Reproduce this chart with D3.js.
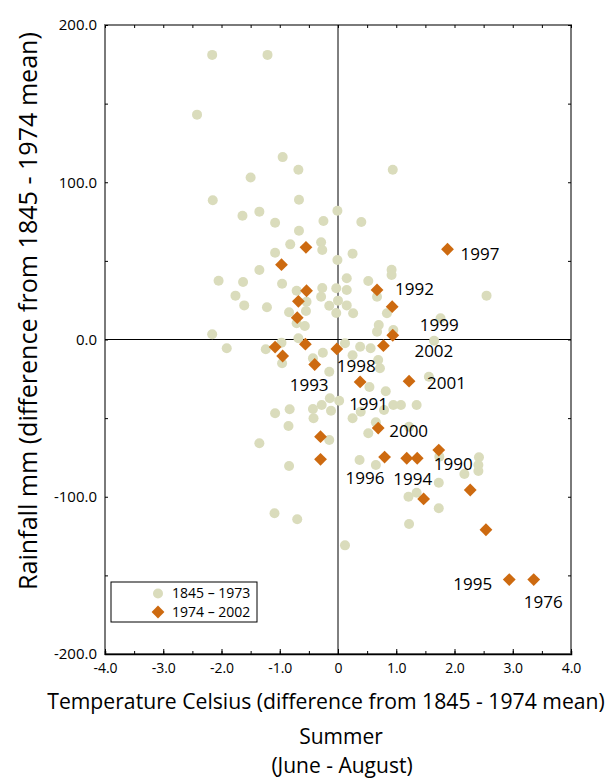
<!DOCTYPE html>
<html>
<head>
<meta charset="utf-8">
<script src="https://cdn.jsdelivr.net/npm/d3@7"></script>
<style>
  body { margin: 0; background: #fff; }
  text { font-family: 'Open Sans', 'Noto Sans', sans-serif; fill: #000; }
</style>
</head>
<body>
<script>
// 1845 - 1973 summers (temp diff °C, rain diff mm)
const earlyTemp = [
  -2.16, -1.21, -2.42, -0.95, -0.68, -1.50, -2.15, -0.67, 0.94, -1.64,
  -1.35, -1.08, -0.01, -0.25, 0.40, -0.67, -0.82, -0.29, -0.27, -1.08,
  0.25, -0.01, 0.92, 0.92, -1.35, -2.05, -1.63, -0.96, 0.15, 0.52,
  -0.71, -0.27, -0.03, 0.15, -1.76, -0.29, 0.67, -0.54, 0.00, -1.61,
  -1.22, -0.15, 0.15, -0.55, -0.84, -0.03, 0.26, 0.84, -0.71, -0.57,
  0.70, 0.67, 0.95, -2.16, -1.91, -1.24, -0.97, -0.68, -0.96, -0.43,
  -0.26, 0.12, 0.38, 0.56, 0.25, -0.15, 0.54, 0.82, -0.14, 2.55,
  1.76, 1.65, 1.56, 0.69, 0.72, 0.02, -0.28, -0.43, -0.12, -0.42,
  -1.08, -0.83, -0.85, -1.35, -0.15, 0.25, 0.39, 0.79, 0.95, 1.08,
  1.35, 0.65, 0.52, 0.37, 0.65, -0.84, -1.09, -0.70, 0.12, 1.21,
  1.35, 1.22, 1.22, 1.74, 2.42, 2.41, 2.41, 2.17, 1.73, 1.73
];
const earlyRain = [
  181, 181, 143, 116, 108, 103, 88.5, 88.9, 108, 78.7,
  81.3, 74.3, 81.9, 75.4, 74.7, 69.2, 60.5, 61.8, 56.9, 55.2,
  54.6, 50.6, 44.4, 41.0, 44.2, 37.4, 36.6, 35.5, 38.9, 37.2,
  31.0, 32.7, 32.6, 31.5, 27.9, 27.2, 27.2, 24.0, 24.7, 21.7,
  20.5, 21.5, 21.7, 18.1, 17.3, 16.9, 16.7, 16.7, 10.3, 8.6,
  9.2, 5.0, 6.0, 3.3, -5.6, -6.2, -2.0, 0.8, -15.1, -12.0,
  -8.4, -2.4, -4.6, -5.6, -10.0, -20.5, -30.2, -32.9, -37.4, 27.9,
  13.5, -0.8, -23.7, -13.0, -18.3, -38.9, -41.7, -44.2, -45.3, -50.1,
  -46.9, -44.4, -55.0, -66.0, -63.9, -50.1, -45.9, -44.8, -41.7, -41.7,
  -41.7, -52.7, -59.6, -76.6, -79.8, -80.4, -110.5, -114.3, -130.9, -100.0,
  -97.4, -117.3, -55.5, -74.5, -74.9, -79.8, -83.6, -85.5, -91.1, -107.3
];

// 1974 - 2002 summers, with year labels where shown
const lateTemp = [
  -0.55, -0.97, -0.54, -0.68, -0.70, 0.67, 0.93, 0.94, 0.78, -1.08,
  -0.95, -0.56, -0.02, -0.40, 0.38, 1.22, 1.88, 0.69, -0.30, -0.30,
  0.80, 1.18, 1.36, 1.73, 1.47, 2.27, 2.54, 2.94, 3.36
];
const lateRain = [
  58.6, 47.6, 31.0, 24.3, 13.9, 31.5, 20.9, 2.7, -3.9, -4.8,
  -10.5, -3.0, -6.0, -15.9, -27.0, -26.5, 57.4, -56.3, -61.8, -76.2,
  -74.8, -75.5, -75.5, -70.3, -101.4, -95.7, -121.0, -152.7, -152.7
];
const lateLabel = [
  '', '', '', '', '', '1992', '', '1999', '2002', '',
  '', '', '1998', '1993', '1991', '2001', '1997', '2000', '', '',
  '1996', '', '1994', '1990', '', '', '', '1995', '1976'
];

const xTicks = [-4, -3, -2, -1, 0, 1, 2, 3, 4];
const yTicks = [-200, -100, 0, 100, 200];
const legendLabels = ['1845 \u2013 1973', '1974 \u2013 2002'];

// label offsets from the diamond (px)
const labelPos = {
  1997: [13, 11], 1992: [18, 5], 1999: [27, -4], 2002: [31, 11],
  1998: [0, 23], 1993: [-25, 26], 1991: [-11, 28], 2001: [18, 8],
  2000: [11, 9], 1996: [-39, 27], 1994: [-24, 27], 1990: [-5, 20],
  1995: [-56, 10], 1976: [-10, 28]
};

const W = 609, H = 778;
const plot = { left: 105, right: 571, top: 25, bottom: 654 };
const circleFill = '#dadcbc';
const diamondFill = '#cd6a10';

const svg = d3.select('body').append('svg').attr('width', W).attr('height', H);

const x = d3.scaleLinear().domain([-4, 4]).range([plot.left, plot.right]);
const y = d3.scaleLinear().domain([-200, 200]).range([plot.bottom, plot.top]);

const early = earlyTemp.map((t, i) => ({ t, r: earlyRain[i] }));
const late = lateTemp.map((t, i) => ({ t, r: lateRain[i], label: lateLabel[i] }));

// frame
svg.append('rect')
  .attr('x', plot.left).attr('y', plot.top)
  .attr('width', plot.right - plot.left).attr('height', plot.bottom - plot.top)
  .attr('fill', 'none').attr('stroke', '#7a7a7a').attr('stroke-width', 2);

// minor ticks on all sides (inward)
const minorX = d3.range(-4, 4.01, 0.5);
const minorY = d3.range(-200, 201, 50);

svg.append('g').attr('transform', `translate(0,${plot.top})`)
  .call(d3.axisTop(x).tickValues(minorX).tickSize(-3).tickFormat(''))
  .call(g => g.select('.domain').remove());
svg.append('g').attr('transform', `translate(${plot.right},0)`)
  .call(d3.axisRight(y).tickValues(minorY).tickSize(-3).tickFormat(''))
  .call(g => g.select('.domain').remove());

// y axis
const fmtY = d => d.toFixed(1);
svg.append('g').attr('transform', `translate(${plot.left},0)`)
  .call(d3.axisLeft(y).tickValues(minorY).tickSize(-3).tickPadding(8)
    .tickFormat(d => yTicks.includes(d) ? fmtY(d) : ''))
  .call(g => g.select('.domain').remove())
  .call(g => g.selectAll('text').attr('font-size', 15).attr('font-family', "'Open Sans', sans-serif"));

// x axis
const fmtX = d => d === 0 ? '0' : d.toFixed(1);
svg.append('g').attr('transform', `translate(0,${plot.bottom})`)
  .call(d3.axisBottom(x).tickValues(minorX).tickSize(-3).tickFormat(''))
  .call(g => g.select('.domain').attr('stroke', '#000').attr('stroke-width', 1.5));
svg.append('g').attr('transform', `translate(0,${plot.bottom})`)
  .call(d3.axisBottom(x).tickValues(xTicks).tickSize(-5).tickPadding(9).tickFormat(fmtX))
  .call(g => g.select('.domain').remove())
  .call(g => g.selectAll('text').attr('font-size', 14).attr('font-family', "'Open Sans', sans-serif"));

// zero lines
svg.append('line')
  .attr('x1', x(0)).attr('x2', x(0)).attr('y1', plot.top).attr('y2', plot.bottom)
  .attr('stroke', '#000').attr('stroke-width', 1);
svg.append('line')
  .attr('x1', plot.left).attr('x2', plot.right).attr('y1', y(0)).attr('y2', y(0))
  .attr('stroke', '#000').attr('stroke-width', 1);

// points
const diamond = d3.symbol().type(d3.symbolSquare).size(82);

svg.append('g').selectAll('circle').data(early).join('circle')
  .attr('cx', d => x(d.t)).attr('cy', d => y(d.r)).attr('r', 5)
  .attr('fill', circleFill);

svg.append('g').selectAll('path').data(late).join('path')
  .attr('d', diamond)
  .attr('transform', d => `translate(${x(d.t)},${y(d.r)}) rotate(45)`)
  .attr('fill', diamondFill);

svg.append('g').selectAll('text').data(late.filter(d => d.label)).join('text')
  .attr('x', d => x(d.t) + labelPos[d.label][0])
  .attr('y', d => y(d.r) + labelPos[d.label][1])
  .attr('font-size', 17)
  .text(d => d.label);

// legend
const lg = svg.append('g').attr('transform', 'translate(111,582)');
lg.append('rect').attr('width', 146).attr('height', 40)
  .attr('fill', '#fff').attr('stroke', '#000').attr('stroke-width', 1);
lg.append('circle').attr('cx', 47).attr('cy', 11.5).attr('r', 5).attr('fill', circleFill);
lg.append('path').attr('d', diamond).attr('transform', 'translate(47,30) rotate(45)').attr('fill', diamondFill);
lg.selectAll('text.lab').data(legendLabels).join('text')
  .attr('class', 'lab')
  .attr('x', 61).attr('y', (d, i) => 16 + i * 19)
  .attr('font-size', 14)
  .text(d => d);

// titles
function fit(sel, w) {
  const len = sel.node().getComputedTextLength();
  sel.attr('font-size', parseFloat(sel.attr('font-size')) * w / len);
  return sel;
}

fit(svg.append('text')
  .attr('x', 326).attr('y', 709).attr('text-anchor', 'middle').attr('font-size', 17)
  .text('Temperature Celsius (difference from 1845 - 1974 mean)'), 558);

fit(svg.append('text')
  .attr('transform', 'translate(37,311) rotate(-90)').attr('text-anchor', 'middle').attr('font-size', 21)
  .text('Rainfall mm (difference from 1845 - 1974 mean)'), 558);

svg.append('text')
  .attr('x', 341).attr('y', 744).attr('text-anchor', 'middle').attr('font-size', 21)
  .text('Summer');

svg.append('text')
  .attr('x', 342).attr('y', 773).attr('text-anchor', 'middle').attr('font-size', 21)
  .text('(June - August)');
</script>
</body>
</html>
